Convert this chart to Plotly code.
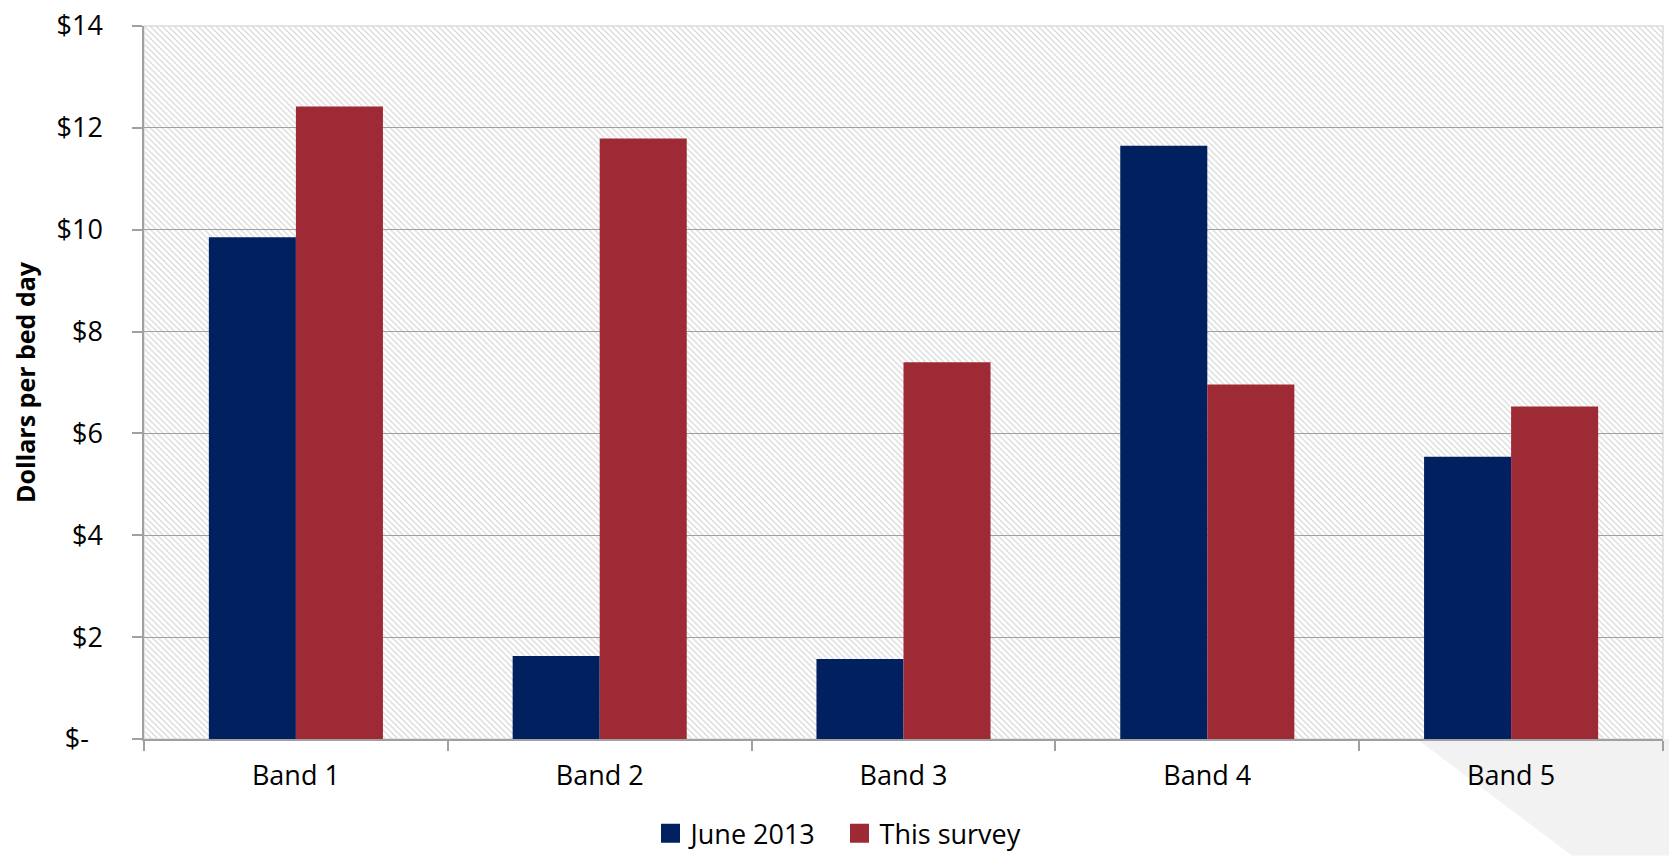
import base64
import plotly.graph_objects as go

# Cost per bed day by band
bands = ["Band 1", "Band 2", "Band 3", "Band 4", "Band 5"]
june_2013 = [9.85, 1.63, 1.57, 11.65, 5.54]
this_survey = [12.42, 11.79, 7.40, 6.96, 6.53]

series_names = ["June 2013", "This survey"]
series_colors = ["#002060", "#9E2A36"]

y_ticks = [0, 2, 4, 6, 8, 10, 12, 14]
y_ticktext = ["$-\u00a0\u00a0" if v == 0 else f"${v}" for v in y_ticks]

FONT = "Open Sans"
W, H = 1669, 856
M_L, M_R, M_T, M_B = 144, 6, 23, 117
PW, PH = W - M_L - M_R, H - M_T - M_B

# Diagonal hatch used as the plot-area background
hatch_svg = (
    f'<svg xmlns="http://www.w3.org/2000/svg" width="{PW}" height="{PH}">'
    '<defs><pattern id="h" width="6" height="6" patternUnits="userSpaceOnUse">'
    '<path d="M-1,-1L7,7M-1,5L1,7M5,-1L7,1" stroke="#d9d9d9" stroke-width="1.3"/>'
    '</pattern></defs>'
    f'<rect width="{PW}" height="{PH}" fill="#ffffff"/>'
    f'<rect width="{PW}" height="{PH}" fill="url(#h)"/>'
    '</svg>'
)
hatch_uri = "data:image/svg+xml;base64," + base64.b64encode(hatch_svg.encode()).decode()

fig = go.Figure()
for name, vals, col in zip(series_names, [june_2013, this_survey], series_colors):
    fig.add_trace(go.Bar(
        x=bands, y=vals, name=name,
        marker=dict(color=col, line=dict(width=0)),
        showlegend=False,
    ))
    # square legend swatch
    fig.add_trace(go.Scatter(
        x=[None], y=[None], mode="markers", name=name,
        marker=dict(symbol="square", size=16, color=col,
                    line=dict(color=col, width=3)),
        showlegend=True,
    ))

fig.update_layout(
    width=W, height=H,
    margin=dict(l=M_L, r=M_R, t=M_T, b=M_B),
    paper_bgcolor="#ffffff",
    plot_bgcolor="rgba(0,0,0,0)",
    barmode="group",
    bargap=0.427,
    bargroupgap=0,
    font=dict(family=FONT, size=27, color="#000000"),
    legend=dict(
        orientation="h",
        xref="container", yref="container",
        x=0.503, xanchor="center",
        y=0.026, yanchor="middle",
        font=dict(family=FONT, size=27, color="#000000"),
        entrywidth=144,
        itemwidth=30,
        bgcolor="rgba(0,0,0,0)",
    ),
    images=[dict(
        source=hatch_uri, xref="paper", yref="paper",
        x=0, y=1, sizex=1, sizey=1, sizing="stretch",
        xanchor="left", yanchor="top", layer="below",
    )],
    shapes=[
        # light frame around the plot area
        dict(type="rect", xref="paper", yref="paper", x0=0, x1=1, y0=0, y1=1,
             line=dict(color="#dcdcdc", width=1.5), fillcolor="rgba(0,0,0,0)",
             layer="between"),
        # grey corner wedge at the bottom right
        dict(type="path", xref="paper", yref="paper",
             path="M 0.838,0 L 1.004,0 L 1.004,-0.1634 L 0.940,-0.1634 Z",
             fillcolor="#f2f2f2", line=dict(width=0), layer="below"),
    ],
)

fig.update_xaxes(
    type="category",
    showline=True, linecolor="#a0a0a0", linewidth=1.5,
    ticks="outside", tickson="boundaries", ticklen=10,
    tickcolor="#a0a0a0", tickwidth=1.5,
    tickfont=dict(family=FONT, size=27, color="#000000"),
    ticklabelstandoff=12,
    showgrid=False,
)
fig.update_yaxes(
    range=[0, 14],
    tickvals=y_ticks, ticktext=y_ticktext,
    showline=True, linecolor="#a0a0a0", linewidth=1.5,
    ticks="outside", ticklen=10, tickcolor="#a0a0a0", tickwidth=1.5,
    ticklabelstandoff=24,
    tickfont=dict(family=FONT, size=27, color="#000000"),
    showgrid=True, gridcolor="#a0a0a0", gridwidth=1.2,
    zeroline=False,
    title=dict(text="<b>Dollars per bed day</b>", standoff=14,
               font=dict(family=FONT, size=25, color="#000000")),
)

fig.write_html("out.html")
